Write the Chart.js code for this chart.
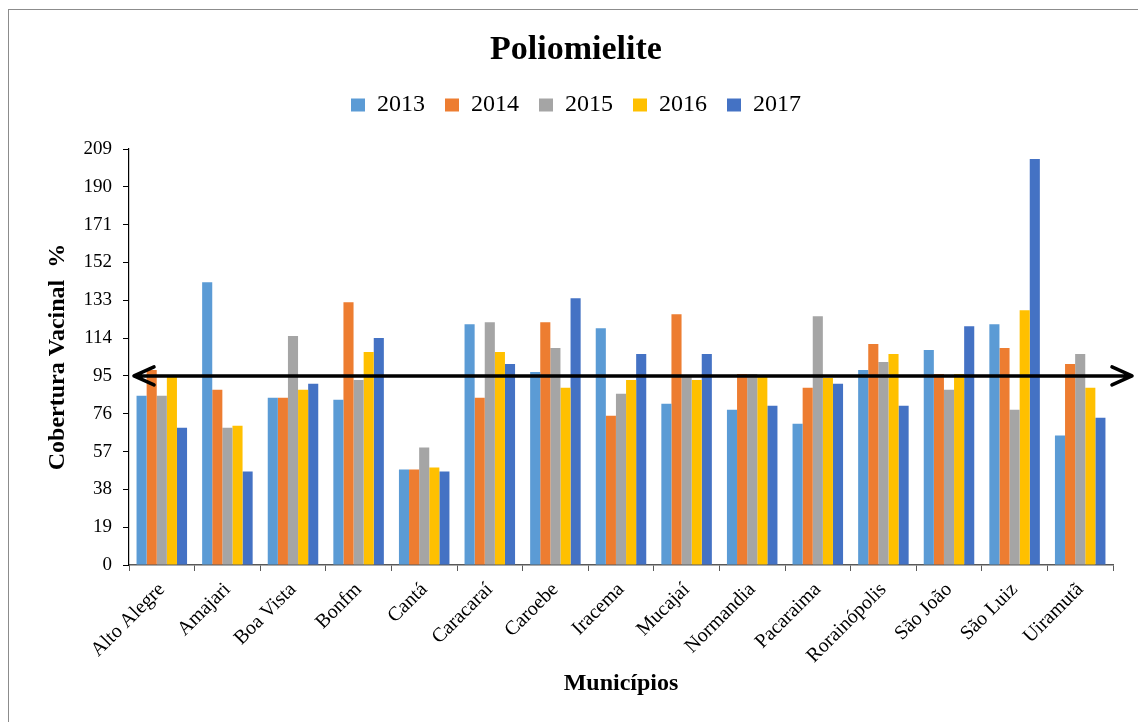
<!DOCTYPE html>
<html>
<head>
<meta charset="utf-8">
<script src="https://cdn.jsdelivr.net/npm/chart.js@4/dist/chart.umd.min.js"></script>
<style>
  html, body { margin: 0; padding: 0; background: #fff; overflow: hidden; }
  #moldura { position: absolute; left: 8px; top: 9px; width: 2000px; height: 2000px;
    border-left: 1px solid #8c8c8c; border-top: 1px solid #8c8c8c; }
  #grafico { position: absolute; left: 0; top: 0; }
</style>
</head>
<body>
<div id="moldura"></div>
<canvas id="grafico" width="1138" height="722"></canvas>
<script>
const municipios = ['Alto Alegre', 'Amajari', 'Boa Vista', 'Bonfm', 'Cantá', 'Caracaraí', 'Caroebe', 'Iracema',
  'Mucajaí', 'Normandia', 'Pacaraima', 'Rorainópolis', 'São João', 'São Luiz', 'Uiramutã']

const anos = ['2013', '2014', '2015', '2016', '2017']

const cob2013 = [85, 142, 84, 83, 48, 121, 97, 119, 81, 78, 71, 98, 108, 121, 65]
const cob2014 = [98, 88, 84, 132, 48, 84, 122, 75, 126, 96, 89, 111, 96, 109, 101]
const cob2015 = [85, 69, 115, 93, 59, 122, 109, 86, 95, 96, 125, 102, 88, 78, 106]
const cob2016 = [95, 70, 88, 107, 49, 107, 89, 93, 93, 95, 94, 106, 96, 128, 89]
const cob2017 = [69, 47, 91, 114, 47, 101, 134, 106, 106, 80, 91, 80, 120, 204, 74]

const yMin = 0
const yMax = 209
const yPasso = 19
const metaCobertura = 95

const cores = ['#5B9BD5', '#ED7D31', '#A5A5A5', '#FFC000', '#4472C4']
const serif = "'Liberation Serif', 'Times New Roman', serif"

Chart.defaults.font.family = serif
Chart.defaults.color = '#000'

const series = [cob2013, cob2014, cob2015, cob2016, cob2017]

// seta dupla na linha da meta (95%)
const setaMeta = {
  id: 'setaMeta',
  afterDatasetsDraw(chart) {
    const ctx = chart.ctx
    const y = chart.scales.y.getPixelForValue(metaCobertura)
    const x1 = chart.chartArea.left + 5
    const x2 = chart.chartArea.right + 19
    ctx.save()
    ctx.strokeStyle = '#000'
    ctx.lineWidth = 3.5
    ctx.lineCap = 'round'
    ctx.lineJoin = 'round'
    ctx.beginPath()
    ctx.moveTo(x1, y)
    ctx.lineTo(x2, y)
    ctx.moveTo(x1 + 20, y - 9)
    ctx.lineTo(x1, y)
    ctx.lineTo(x1 + 20, y + 9)
    ctx.moveTo(x2 - 20, y - 9)
    ctx.lineTo(x2, y)
    ctx.lineTo(x2 - 20, y + 9)
    ctx.stroke()
    ctx.restore()
  }
}

new Chart(document.getElementById('grafico'), {
  type: 'bar',
  data: {
    labels: municipios,
    datasets: series.map((dados, i) => ({
      label: anos[i],
      data: dados,
      backgroundColor: cores[i],
      borderWidth: 0,
      categoryPercentage: 0.77,
      barPercentage: 1
    }))
  },
  options: {
    responsive: false,
    animation: false,
    layout: { padding: { left: 39, right: 25, top: 0, bottom: 0 } },
    plugins: {
      title: {
        display: true,
        text: 'Poliomielite',
        color: '#000',
        font: { size: 34, weight: 'bold' },
        padding: { top: 29.5, bottom: 2.7 }
      },
      subtitle: {
        display: true,
        text: ' ',
        weight: 10,
        font: { size: 10, lineHeight: 1 },
        padding: { top: 6, bottom: 6 }
      },
      legend: {
        position: 'top',
        labels: {
          boxWidth: 14,
          boxHeight: 13,
          padding: 20,
          color: '#000',
          font: { size: 24 }
        }
      },
      tooltip: { enabled: false }
    },
    scales: {
      x: {
        grid: { drawOnChartArea: false, drawTicks: true, tickLength: 6, color: '#595959', offset: true },
        border: { display: true, color: '#595959', width: 1.5 },
        ticks: { autoSkip: false, maxRotation: 45, minRotation: 45, padding: 7, color: '#000', font: { size: 20 } },
        title: {
          display: true,
          text: 'Municípios',
          color: '#000',
          font: { size: 24, weight: 'bold' },
          padding: { top: 0, bottom: 24 }
        },
        afterFit(s) { s.height = 157 }
      },
      y: {
        min: yMin,
        max: yMax,
        grid: { drawOnChartArea: false, drawTicks: true, tickLength: 6, color: '#000' },
        border: { display: true, color: '#000', width: 1.2 },
        ticks: { stepSize: yPasso, padding: 11, color: '#000', font: { size: 19 } },
        title: {
          display: true,
          text: 'Cobertura Vacinal  %',
          color: '#000',
          font: { size: 24, weight: 'bold' },
          padding: { top: 4, bottom: 0 }
        },
        afterFit(s) { s.width = 90 }
      }
    }
  },
  plugins: [setaMeta]
})
</script>
</body>
</html>
